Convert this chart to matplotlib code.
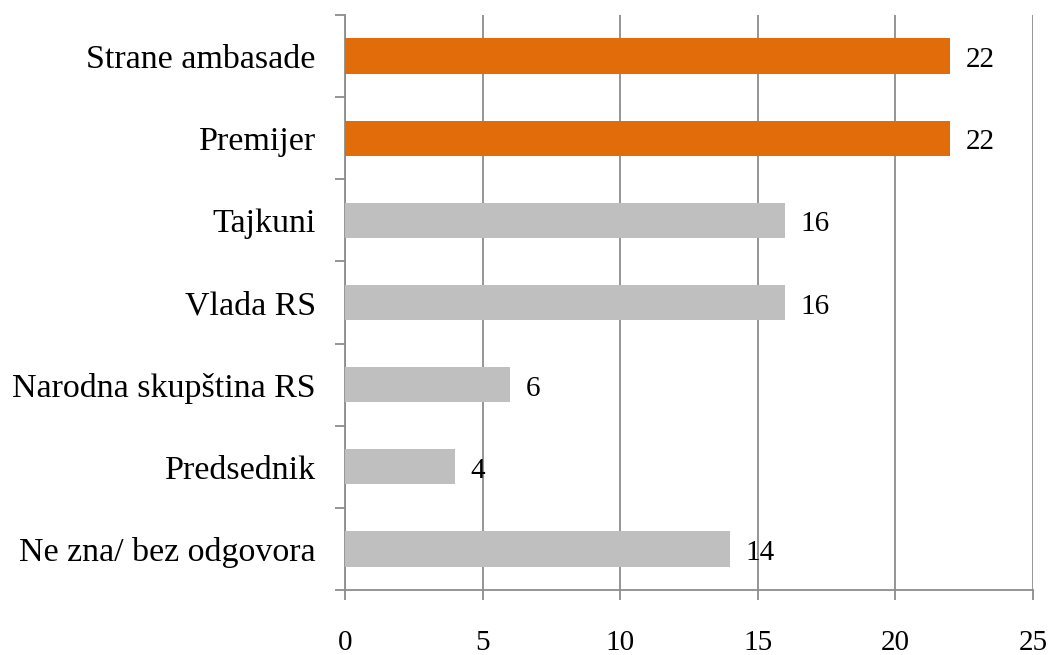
import numpy as np
import matplotlib
matplotlib.use("Agg")
import matplotlib.pyplot as plt

# ── Data ──────────────────────────────────────────────────────────────────
categories = ["Strane ambasade", "Premijer", "Tajkuni", "Vlada RS",
              "Narodna skupština RS", "Predsednik", "Ne zna/ bez odgovora"]
values = [22, 22, 16, 16, 6, 4, 14]
highlight = [True, True, False, False, False, False, False]
x_ticks = [0, 5, 10, 15, 20, 25]

ORANGE = "#E36C0A"
GREY_BAR = "#BFBFBF"
GRID = "#8C8C8C"

plt.rcParams["font.family"] = ["Liberation Serif", "DejaVu Serif"]

fig = plt.figure(figsize=(10.51, 6.55), dpi=100, facecolor="white")
ax = fig.add_axes([345 / 1051, 1 - 590 / 655, 688 / 1051, 575 / 655])

y = np.arange(len(categories))
colors = [ORANGE if h else GREY_BAR for h in highlight]
ax.barh(y, values, height=0.43, color=colors, zorder=3)

for yi, v in zip(y, values):
    ax.text(v + 0.55, yi + 0.05, str(v), va="center", ha="left",
            fontsize=21, color="black")

ax.set_xlim(0, 25)
ax.set_ylim(len(categories) - 0.5, -0.5)
ax.set_xticks(x_ticks)
ax.set_xticklabels([str(t) for t in x_ticks], fontsize=21)
ax.set_yticks(y)
ax.set_yticklabels(categories, fontsize=24.5)
ax.set_yticks(np.arange(-0.5, len(categories), 1), minor=True)

ax.tick_params(axis="y", which="major", length=0, pad=21)
ax.tick_params(axis="y", which="minor", length=7, color=GRID, width=1.3)
ax.tick_params(axis="x", which="major", length=7, color=GRID, width=1.3,
               pad=22, direction="out")

ax.grid(True, axis="x", color=GRID, linewidth=1.3, zorder=0)
for side in ["top", "right"]:
    ax.spines[side].set_visible(False)
for side in ["left", "bottom"]:
    ax.spines[side].set_color(GRID)
    ax.spines[side].set_linewidth(1.3)

fig.savefig("out.png", dpi=100)
